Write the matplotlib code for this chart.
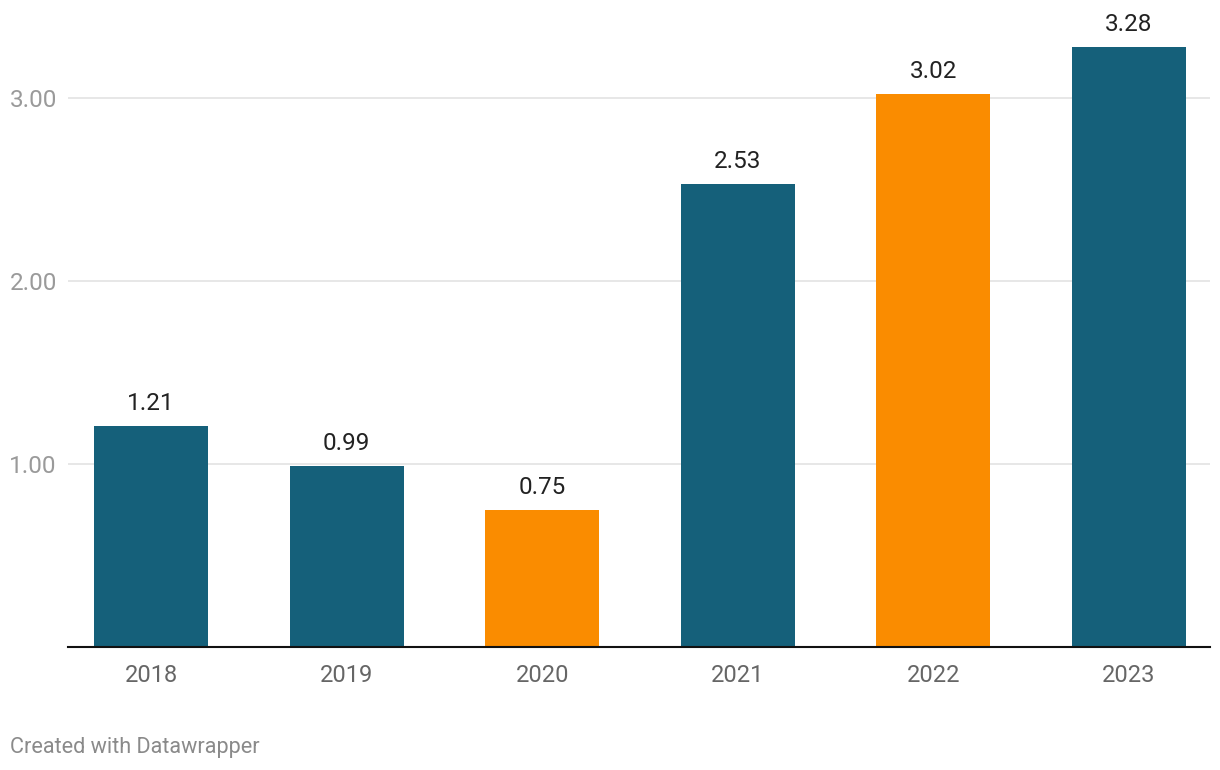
import matplotlib
matplotlib.use("Agg")
import matplotlib.pyplot as plt

plt.rcParams["font.family"] = ["Roboto", "DejaVu Sans"]

years  = ["2018", "2019", "2020", "2021", "2022", "2023"]
values = [1.21, 0.99, 0.75, 2.53, 3.02, 3.28]
highlight = [False, False, True, False, True, False]
yticks = [1.0, 2.0, 3.0]

TEAL   = "#15607a"
ORANGE = "#fa8c00"

fig = plt.figure(figsize=(12.2, 7.7), dpi=100)
# axes: x 68..1210 px, y 30..647 px (from top)
ax = fig.add_axes([68 / 1220, (770 - 647) / 770, (1210 - 68) / 1220, (647 - 30) / 770])

colors = [ORANGE if h else TEAL for h in highlight]
x = list(range(len(years)))
ax.bar(x, values, width=0.583, color=colors, zorder=2)

for xi, v in zip(x, values):
    ax.text(xi, v + 0.06, f"{v:.2f}", ha="center", va="bottom",
            fontsize=17.5, color="#222222", clip_on=False)

ax.set_xlim(-0.424, 5.414)
ax.set_ylim(0, 617 / 183)

ax.set_yticks(yticks)
ax.set_yticklabels([f"{t:.2f}" for t in yticks])
ax.yaxis.grid(True, color="#e5e5e5", linewidth=1.3, zorder=0)
ax.set_axisbelow(True)
ax.tick_params(axis="y", length=0, pad=8, labelsize=17.5, labelcolor="#9a9a9a")

ax.set_xticks(x)
ax.set_xticklabels(years)
ax.tick_params(axis="x", length=0, pad=12, labelsize=17, labelcolor="#666666")

for s in ["top", "right", "left"]:
    ax.spines[s].set_visible(False)
ax.spines["bottom"].set_color("#111111")
ax.spines["bottom"].set_linewidth(1.5)

fig.text(10 / 1220, 1 - 748 / 770, "Created with Datawrapper", ha="left", va="center",
         fontsize=15.6, color="#8a8a8a")

fig.savefig("out.png", dpi=100)
